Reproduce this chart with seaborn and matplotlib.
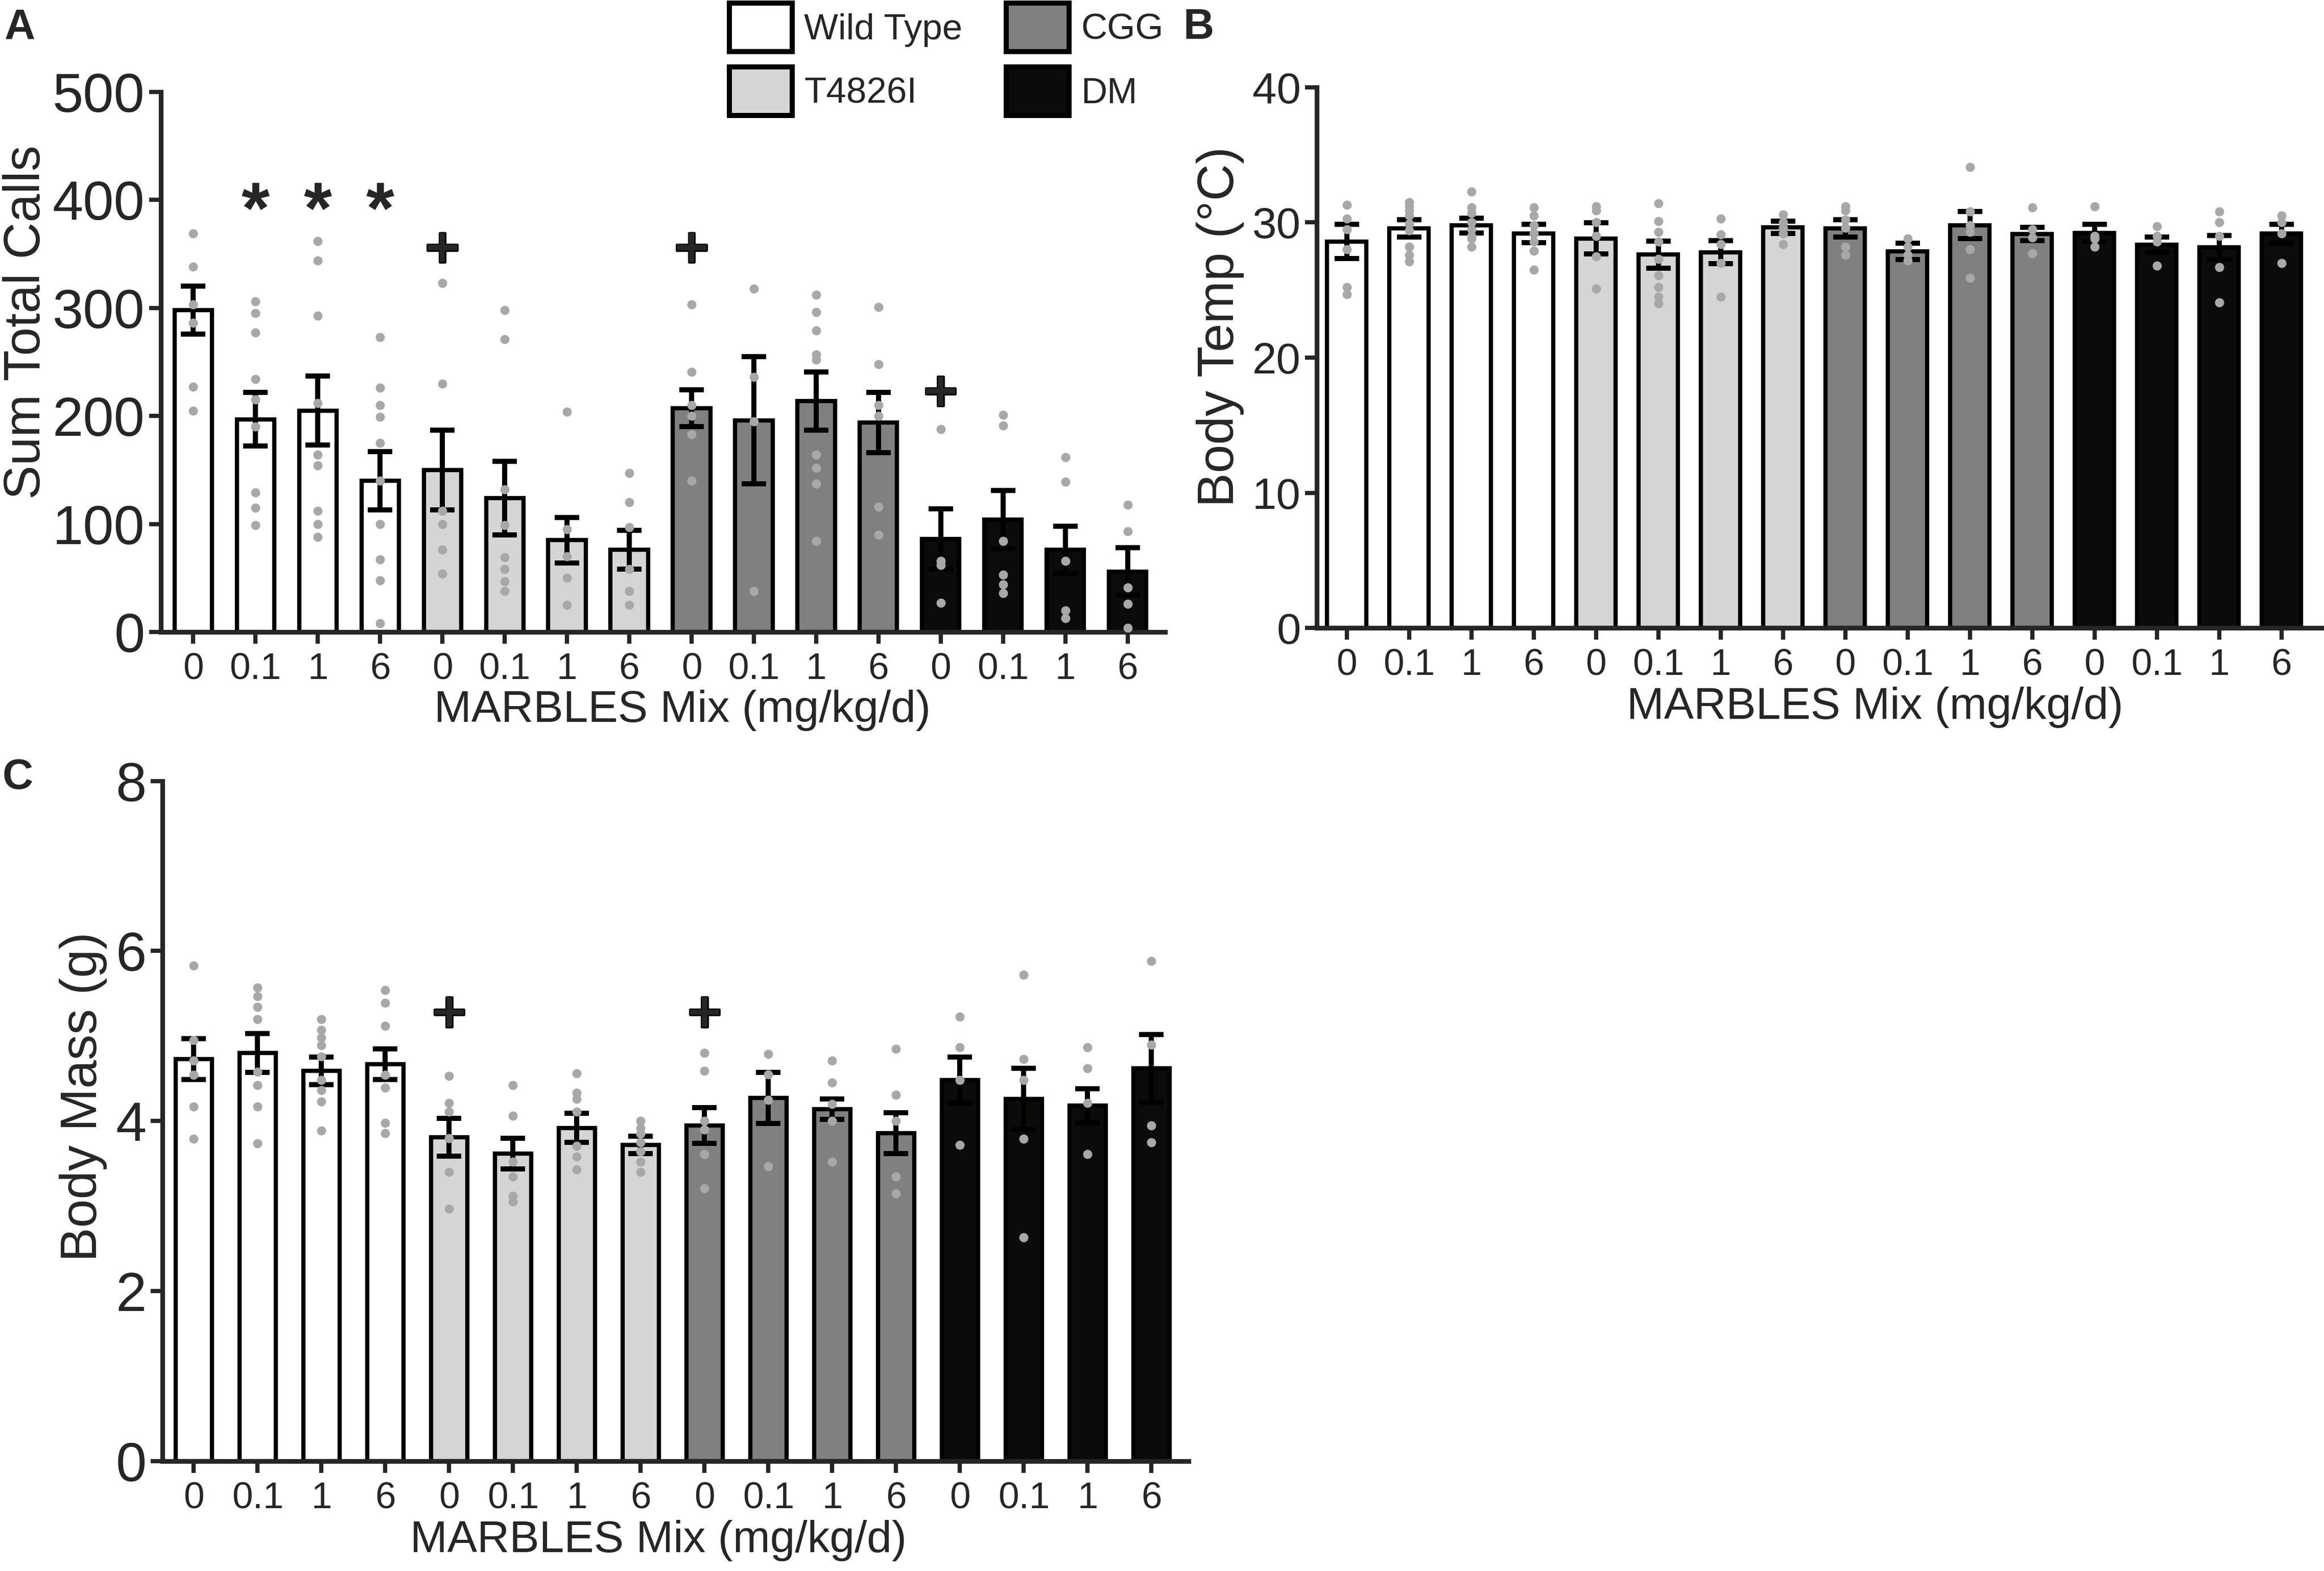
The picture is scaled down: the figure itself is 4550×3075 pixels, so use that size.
import numpy as np
import pandas as pd
import matplotlib
matplotlib.use('Agg')
import matplotlib.pyplot as plt
import matplotlib.patheffects as pe
from matplotlib.patches import Patch
import seaborn as sns

sns.set_style('ticks')
plt.rcParams['font.family'] = ['Liberation Sans', 'DejaVu Sans']

genotypes = ['Wild Type', 'T4826I', 'CGG', 'DM']
doses = ['0', '0.1', '1', '6']
geno_colors = ['#ffffff', '#d4d5d4', '#7f817f', '#0a0c0a']
dot_color = '#a8a8a8'

# --- A: sum total calls ---
calls_mean = [298, 197, 205, 140, 150, 124, 85, 76, 207, 196, 214, 194, 86, 104, 76, 56]
calls_sem = [22, 25, 32, 27, 37, 34, 21, 18, 17, 59, 27, 28, 28, 27, 22, 22]
calls_points = [
    [369, 338, 303, 286, 227, 205],
    [306, 295, 277, 234, 215, 190, 129, 115, 99],
    [362, 344, 293, 212, 164, 154, 112, 100, 88],
    [273, 226, 210, 199, 175, 140, 100, 67, 48, 8],
    [323, 230, 112, 100, 76, 54],
    [298, 271, 132, 99, 69, 58, 47, 38],
    [204, 95, 70, 50, 25],
    [147, 120, 97, 58, 38, 25],
    [303, 241, 210, 200, 183, 140],
    [318, 236, 195, 38],
    [312, 296, 279, 257, 252, 164, 152, 137, 84],
    [301, 248, 210, 200, 116, 90],
    [188, 66, 62, 27],
    [201, 191, 84, 53, 44, 36],
    [162, 139, 66, 20, 13],
    [118, 93, 41, 26, 4],
]
calls_star_groups = [1, 2, 3]
calls_star_y = 405
calls_plus_groups = [4, 8, 12]
calls_plus_y = [359, 359, 226]

# --- B: body temperature ---
temp_mean = [28.6, 29.57, 29.78, 29.18, 28.82, 27.62, 27.80, 29.64,
             29.57, 27.87, 29.81, 29.14, 29.21, 28.36, 28.15, 29.18]
temp_sem = [1.25, 0.65, 0.55, 0.67, 1.15, 1.0, 0.85, 0.45,
            0.65, 0.6, 1.0, 0.5, 0.64, 0.57, 0.88, 0.7]
temp_points = [
    [31.3, 30.3, 29.5, 28.0, 25.2, 24.7],
    [31.5, 31.2, 30.9, 30.5, 29.9, 29.4, 28.2, 27.6, 27.1],
    [32.3, 31.1, 30.7, 30.0, 29.5, 29.0, 28.8, 28.2],
    [31.1, 30.5, 29.8, 29.2, 28.6, 27.9, 26.5],
    [31.2, 30.9, 30.0, 29.0, 27.5, 25.1],
    [31.4, 30.1, 29.3, 28.6, 27.3, 26.1, 25.2, 24.5, 24.0],
    [30.3, 29.1, 28.4, 27.0, 24.5],
    [30.6, 30.0, 29.6, 29.2, 28.4],
    [31.2, 30.9, 30.2, 29.6, 28.2, 27.6],
    [28.8, 28.2, 27.6, 27.2],
    [34.1, 30.8, 29.8, 29.3, 28.0, 25.9],
    [31.1, 29.5, 28.9, 27.7],
    [31.2, 29.0, 28.8, 28.2],
    [29.7, 29.0, 28.6, 26.8],
    [30.8, 30.0, 29.0, 26.7, 24.1],
    [30.5, 30.0, 29.2, 27.0],
]

# --- C: body mass ---
mass_mean = [4.73, 4.80, 4.59, 4.67, 3.81, 3.62, 3.92, 3.72,
             3.95, 4.27, 4.14, 3.86, 4.48, 4.26, 4.18, 4.62]
mass_sem = [0.24, 0.23, 0.16, 0.18, 0.22, 0.18, 0.17, 0.10,
            0.21, 0.30, 0.12, 0.24, 0.27, 0.36, 0.20, 0.40]
mass_points = [
    [5.83, 4.95, 4.71, 4.54, 4.17, 3.79],
    [5.57, 5.47, 5.34, 5.20, 4.58, 4.42, 4.17, 3.74],
    [5.20, 5.07, 4.98, 4.89, 4.76, 4.48, 4.36, 4.23, 3.89],
    [5.54, 5.39, 5.12, 4.54, 4.39, 3.98, 3.86],
    [4.53, 4.21, 4.11, 3.80, 3.40, 2.97],
    [4.42, 4.06, 3.52, 3.35, 3.12, 3.05],
    [4.56, 4.33, 4.26, 4.11, 3.71, 3.58, 3.43],
    [4.00, 3.92, 3.85, 3.75, 3.64, 3.52, 3.40],
    [4.80, 4.59, 4.00, 3.90, 3.61, 3.21],
    [4.79, 4.55, 4.25, 3.47],
    [4.71, 4.45, 4.20, 4.00, 3.52],
    [4.85, 4.31, 4.00, 3.35, 3.15],
    [5.23, 4.87, 4.48, 3.72],
    [5.72, 4.73, 4.48, 3.79, 2.63],
    [4.87, 4.62, 4.21, 3.61],
    [5.88, 4.90, 3.95, 3.75],
]
mass_plus_groups = [4, 8]
mass_plus_y = [5.32, 5.32]

groups = [f'{g} {d}' for g in genotypes for d in doses]
group_geno = [g for g in genotypes for d in doses]
palette = dict(zip(genotypes, geno_colors))


def draw_panel(ax, means, sems, points, width, ylim, yticks, ylabel, ytick_size):
    bars = pd.DataFrame({'group': groups, 'genotype': group_geno, 'value': means})
    sns.barplot(data=bars, x='group', y='value', hue='genotype', order=groups,
                hue_order=genotypes, palette=palette, dodge=False, width=width,
                edgecolor='black', linewidth=2.0, errorbar=None, legend=False,
                ax=ax, zorder=2)
    pos = np.arange(len(groups))
    ax.errorbar(pos, means, yerr=sems, fmt='none', ecolor='black',
                elinewidth=2.4, capsize=5.8, capthick=2.4, zorder=4)
    pts = pd.DataFrame({
        'group': np.repeat(groups, [len(p) for p in points]),
        'value': np.concatenate(points),
    })
    sns.stripplot(data=pts, x='group', y='value', order=groups, jitter=False,
                  color=dot_color, size=4.3, linewidth=0, ax=ax, zorder=5)

    ax.set_ylim(*ylim)
    ax.set_yticks(yticks)
    ax.set_xticks(pos)
    ax.set_xticklabels(doses * len(genotypes))
    ax.tick_params(axis='x', labelsize=17.5, length=5.5, width=2, pad=4)
    ax.tick_params(axis='y', labelsize=ytick_size, length=5.5, width=2, pad=2)
    sns.despine(ax=ax)
    for side in ['left', 'bottom']:
        ax.spines[side].set_linewidth(2.2)
    ax.set_ylabel(ylabel, fontsize=24)
    ax.set_xlabel('MARBLES Mix (mg/kg/d)', fontsize=21)


def add_mark(ax, x, y, sym, size, shift, family=None, stroke=0):
    kw = {'family': family} if family else {}
    if stroke:
        kw['path_effects'] = [pe.withStroke(linewidth=stroke, foreground='black')]
    ax.annotate(sym, (x, y), xytext=(0, -shift * size), textcoords='offset points',
                ha='center', va='center', fontsize=size, fontweight='bold',
                zorder=6, **kw)


fig = plt.figure(figsize=(4550 / 300, 3075 / 300), dpi=300)

axA = fig.add_axes([0.0692, 0.5977, 0.5013 - 0.0692, 0.9415 - 0.5977])
draw_panel(axA, calls_mean, calls_sem, calls_points, 0.6, (0, 500),
           [0, 100, 200, 300, 400, 500], 'Sum Total Calls', 26)
axA.set_xlim(-0.52, 15.6)
axA.yaxis.set_label_coords(0.0218, 0.795, transform=fig.transFigure)
axA.xaxis.set_label_coords(0.2937, 0.561, transform=fig.transFigure)
for g in calls_star_groups:
    add_mark(axA, g, calls_star_y, '*', 34, 0.27)
for g, y in zip(calls_plus_groups, calls_plus_y):
    add_mark(axA, g, y, '+', 22, 0.1, family='DejaVu Sans', stroke=1.2)

axB = fig.add_axes([0.5666, 0.6003, 0.9991 - 0.5666, 0.9444 - 0.6003])
draw_panel(axB, temp_mean, temp_sem, temp_points, 0.63, (0, 40),
           [0, 10, 20, 30, 40], 'Body Temp (°C)', 20.5)
axB.set_xlim(-0.48, 15.65)
axB.yaxis.set_label_coords(0.5354, 0.792, transform=fig.transFigure)
axB.xaxis.set_label_coords(0.8068, 0.563, transform=fig.transFigure)

axC = fig.add_axes([0.0699, 0.0699, 0.5114 - 0.0699, 0.5029 - 0.0699])
draw_panel(axC, mass_mean, mass_sem, mass_points, 0.57, (0, 8),
           [0, 2, 4, 6, 8], 'Body Mass (g)', 26)
axC.set_xlim(-0.49, 15.58)
axC.yaxis.set_label_coords(0.0462, 0.302, transform=fig.transFigure)
axC.xaxis.set_label_coords(0.2833, 0.0325, transform=fig.transFigure)
for g, y in zip(mass_plus_groups, mass_plus_y):
    add_mark(axC, g, y, '+', 22, 0.1, family='DejaVu Sans', stroke=1.2)

handles = [Patch(facecolor=c, edgecolor='black', linewidth=2.4, label=g)
           for g, c in zip(genotypes, geno_colors)]
fig.legend(handles=handles, ncol=2, loc='upper left', bbox_to_anchor=(0.3138, 0.998),
           frameon=False, fontsize=17, handlelength=1.74, handleheight=1.69,
           labelspacing=0.42, handletextpad=0.33, columnspacing=1.2,
           borderpad=0, borderaxespad=0)

fig.text(0.002, 0.9951, 'A', fontsize=20, fontweight='bold', va='top', ha='left')
fig.text(0.509, 0.9951, 'B', fontsize=20, fontweight='bold', va='top', ha='left')
fig.text(0.001, 0.5177, 'C', fontsize=20, fontweight='bold', va='top', ha='left')

fig.savefig('out.png', dpi=300)
